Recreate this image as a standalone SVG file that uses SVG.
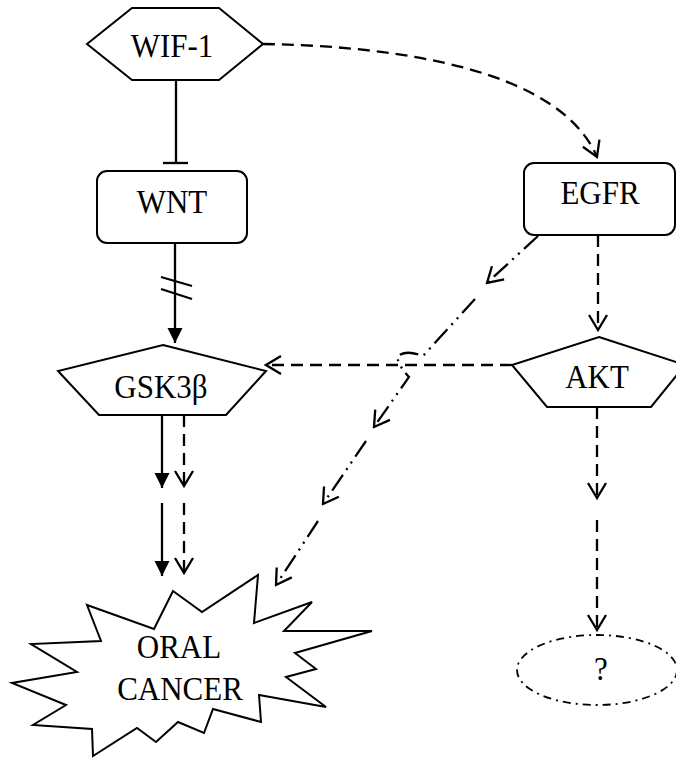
<svg xmlns="http://www.w3.org/2000/svg" width="676" height="758" viewBox="0 0 676 758">
<style>
.node{fill:#fff;stroke:#000;stroke-width:2}
.lbl{font-family:"Liberation Serif","Times New Roman",serif;font-size:31px;fill:#000;text-anchor:middle}
.c{fill:none;stroke:#000;stroke-width:2.3}
.dash{stroke-dasharray:12 7}
.ddot{stroke-dasharray:19 6 2 6 2 6}
.dot{fill:#fff;stroke:#000;stroke-width:1.8;stroke-dasharray:8 5 2 5}
</style>
<defs>
<marker id="open" viewBox="-20 -12 22 24" markerWidth="22" markerHeight="24" refX="0" refY="0" orient="auto" markerUnits="userSpaceOnUse">
<path d="M-15,-9 L0,0 L-15,9" fill="none" stroke="#000" stroke-width="2.3" stroke-dasharray="none"/>
</marker>
<marker id="filled" viewBox="-18 -10 20 20" markerWidth="20" markerHeight="20" refX="0" refY="0" orient="auto" markerUnits="userSpaceOnUse">
<path d="M-15,-7.5 L0,0 L-15,7.5 Z" fill="#000" stroke="none"/>
</marker>
</defs>
<rect width="676" height="758" fill="#fff"/>
<g id="connectors">
<line class="c" x1="176" y1="80" x2="176" y2="163" stroke-width="1.8"/>
<line class="c" x1="163" y1="163" x2="188" y2="163" stroke-width="2"/>
<path class="c dash" d="M263,44 C400,46 560,70 597,157" marker-end="url(#open)"/>
<line class="c" x1="175" y1="243" x2="175" y2="343" marker-end="url(#filled)"/>
<line class="c" x1="161" y1="277" x2="192" y2="286" stroke-width="1.8"/>
<line class="c" x1="161" y1="289" x2="192" y2="299" stroke-width="1.8"/>
<line class="c" x1="162" y1="415" x2="162" y2="488" marker-end="url(#filled)"/>
<line class="c" x1="162" y1="503" x2="162" y2="576" marker-end="url(#filled)"/>
<line class="c dash" x1="184" y1="415" x2="184" y2="486" marker-end="url(#open)"/>
<line class="c dash" x1="184" y1="503" x2="184" y2="573" marker-end="url(#open)"/>
<line class="c dash" x1="598" y1="235" x2="598" y2="330" marker-end="url(#open)"/>
<line class="c dash" x1="512" y1="365" x2="266" y2="365" marker-end="url(#open)"/>
<line class="c dash" x1="597" y1="407" x2="597" y2="498" marker-end="url(#open)"/>
<line class="c dash" x1="597" y1="520" x2="597" y2="630" marker-end="url(#open)"/>
<path class="c ddot" d="M538,236 L487,283" marker-end="url(#open)"/>
<path class="c ddot" d="M475,299 L423,356 Q405,349 397,357 Q400,368 409,377 L374,427" marker-end="url(#open)"/>
<path class="c ddot" d="M366,441 L323,504" marker-end="url(#open)"/>
<path class="c ddot" d="M318,521 L276,585" marker-end="url(#open)"/>
</g>
<g id="wif1">
<polygon class="node" points="87,44 132,8 219,8 263,44 219,80 132,80"/>
<text class="lbl" transform="translate(172,57) scale(1,1.12)">WIF-1</text>
</g>
<g id="wnt">
<rect class="node" x="97" y="171" width="150" height="72" rx="10"/>
<text class="lbl" transform="translate(172,213) scale(1,1.08)">WNT</text>
</g>
<g id="egfr">
<rect class="node" x="524" y="163" width="151" height="72" rx="10"/>
<text class="lbl" transform="translate(600,204) scale(1,1.08)">EGFR</text>
</g>
<g id="gsk3b">
<polygon class="node" points="163,345 266,371 226,415 99,415 58,371"/>
<text class="lbl" transform="translate(161,398) scale(1,1.08)">GSK3β</text>
</g>
<g id="akt">
<polygon class="node" points="599,337 685,365 651,407 547,407 512,365"/>
<text class="lbl" transform="translate(597,388) scale(1,1.08)">AKT</text>
</g>
<g id="oral-cancer">
<polygon class="node" points="173,591 202,612 258,575 254,623 312,602 284,631 372,631 295,653 316,669 286,677 326,707 259,695 261,722 213,709 204,733 178,722 156,742 137,728 93,756 92,729 33,725 66,705 12,683 77,672 31,644 101,641 87,605 154,629"/>
<text class="lbl" transform="translate(179,658) scale(1,1.08)">ORAL</text>
<text class="lbl" transform="translate(180,700) scale(1,1.08)">CANCER</text>
</g>
<g id="unknown">
<ellipse class="dot" cx="597" cy="670" rx="80" ry="35"/>
<text class="lbl" transform="translate(601,680) scale(1,1.08)">?</text>
</g>
</svg>
